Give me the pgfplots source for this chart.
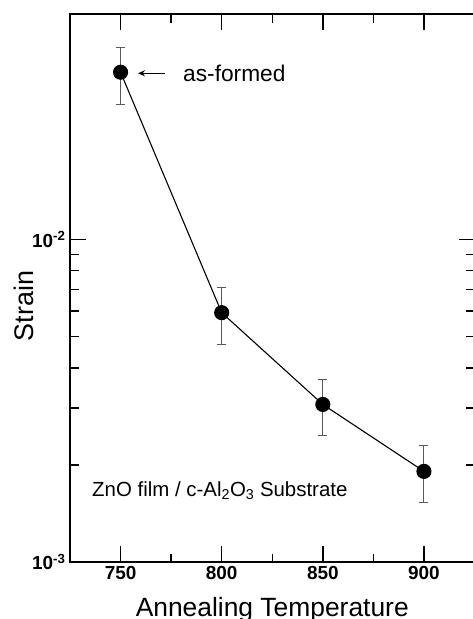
\documentclass[border=0pt]{standalone}
\usepackage{pgfplots}
\pgfplotsset{compat=1.18}
\usepackage{fontspec}
\setmainfont{Liberation Sans}
\usetikzlibrary{calc,arrows.meta}
\begin{document}
\begin{tikzpicture}
\begin{semilogyaxis}[
  scale only axis,
  width=404.5bp, height=548bp,
  xmin=725, xmax=925,
  ymin=1e-3, ymax=0.05,
  xtick={750,800,850,900},
  xticklabels={\textbf{750},\textbf{800},\textbf{850},\textbf{900}},
  minor x tick num=1,
  ytick={0.001,0.01},
  yticklabels={\textbf{10}\textsuperscript{\textbf{-3}},\textbf{10}\textsuperscript{\textbf{-2}}},
  ticklabel style={font=\fontsize{19}{19}\selectfont},
  yticklabel style={xshift=-1bp},
  xticklabel style={yshift=-1bp},
  major tick length=16bp, minor tick length=8.5bp,
  tick align=inside,
  every tick/.style={black, line width=1.4bp},
  axis line style={line width=1.6bp},
  xlabel={Annealing Temperature},
  xlabel style={font=\fontsize{26.5}{26.5}\selectfont, at={(axis description cs:0.5,0)}, anchor=base, yshift=-54bp},
  clip=false,
]
\addplot[black, line width=1.1bp, mark=*, mark size=7bp,
  error bars/.cd, y dir=both, y explicit,
  error bar style={black!65, line width=1bp},
  error mark options={rotate=90, mark size=4.5bp, black!65, line width=1bp}]
  table[x=T, y=S, y error plus=ep, y error minus=em] {
T S ep em
750 0.0330 0.0064 0.0067
800 0.00593 0.00116 0.00122
850 0.00308 0.00061 0.00062
900 0.00191 0.00038 0.00038
};
\draw[-{Stealth[length=7bp,width=6bp]}, line width=1.3bp] (rel axis cs:0.2349,0.8918) -- (rel axis cs:0.168,0.8918);
\node[anchor=base west, inner sep=0pt, font=\fontsize{22.8}{22.8}\selectfont] at (rel axis cs:0.2794,0.8765) {as-formed};
\node[anchor=base west, inner sep=0pt, font=\fontsize{20.5}{20.5}\selectfont] at (rel axis cs:0.0544,0.119) {ZnO film / c-Al\textsubscript{2}O\textsubscript{3} Substrate};
\coordinate (yl) at (rel axis cs:0,0.467);
\coordinate (sw) at (rel axis cs:0,0);
\coordinate (ne) at (rel axis cs:1,1);
\end{semilogyaxis}
\node[rotate=90, anchor=base, inner sep=0pt, font=\fontsize{27}{27}\selectfont] at ($(yl)+(-37bp,0)$) {Strain};
\pgfresetboundingbox
\path[use as bounding box] ($(sw)+(-70bp,-57bp)$) rectangle ($(ne)+(-1.5bp,14bp)$);
\end{tikzpicture}
\end{document}
